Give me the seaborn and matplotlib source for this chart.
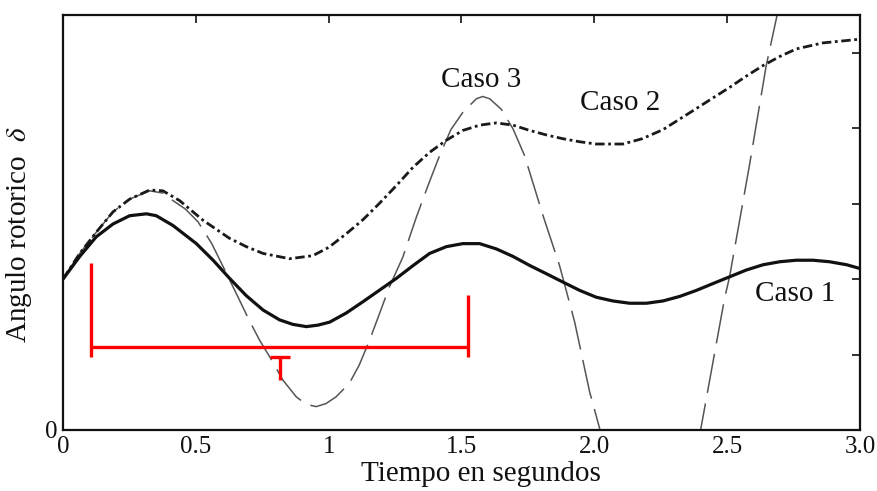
import matplotlib
matplotlib.use("Agg")
import matplotlib.pyplot as plt
import seaborn as sns
import pandas as pd

# ---- data ----
t_caso1 = [0.000, 0.063, 0.125, 0.188, 0.251, 0.314, 0.351, 0.414, 0.502, 0.565, 0.627, 0.690,
           0.753, 0.815, 0.865, 0.916, 0.960, 1.004, 1.066, 1.129, 1.190, 1.255, 1.318, 1.380,
           1.443, 1.505, 1.568, 1.631, 1.694, 1.757, 1.820, 1.882, 1.945, 2.007, 2.070, 2.133,
           2.196, 2.258, 2.321, 2.384, 2.446, 2.509, 2.572, 2.635, 2.698, 2.760, 2.823, 2.885,
           2.950, 3.000]
y_caso1 = [2.00, 2.30, 2.56, 2.73, 2.84, 2.865, 2.84, 2.71, 2.47, 2.25, 2.01, 1.78,
           1.59, 1.46, 1.40, 1.37, 1.39, 1.43, 1.55, 1.70, 1.85, 2.01, 2.18, 2.34,
           2.43, 2.47, 2.47, 2.40, 2.30, 2.18, 2.07, 1.96, 1.85, 1.76, 1.71, 1.68,
           1.68, 1.71, 1.77, 1.85, 1.94, 2.03, 2.12, 2.19, 2.23, 2.25, 2.25, 2.23,
           2.19, 2.14]

t_caso2 = [0.000, 0.063, 0.125, 0.188, 0.251, 0.326, 0.376, 0.439, 0.527, 0.627, 0.690, 0.753,
           0.853, 0.940, 1.000, 1.066, 1.130, 1.190, 1.255, 1.317, 1.380, 1.443, 1.505, 1.568,
           1.631, 1.694, 1.757, 1.820, 1.882, 1.945, 2.007, 2.107, 2.180, 2.258, 2.321, 2.384,
           2.446, 2.509, 2.572, 2.635, 2.698, 2.760, 2.860, 2.973, 3.000]
y_caso2 = [2.00, 2.34, 2.62, 2.89, 3.06, 3.18, 3.17, 3.04, 2.78, 2.54, 2.43, 2.34,
           2.27, 2.31, 2.42, 2.60, 2.79, 3.00, 3.24, 3.48, 3.68, 3.84, 3.97, 4.04,
           4.07, 4.04, 3.97, 3.91, 3.86, 3.82, 3.79, 3.79, 3.86, 3.98, 4.12, 4.26,
           4.40, 4.54, 4.69, 4.83, 4.95, 5.05, 5.13, 5.17, 5.18]

t_caso3 = [0.000, 0.063, 0.125, 0.188, 0.251, 0.326, 0.376, 0.414, 0.460, 0.508, 0.560, 0.609,
           0.659, 0.700, 0.740, 0.778, 0.828, 0.878, 0.915, 0.953, 0.990, 1.028, 1.078, 1.115,
           1.154, 1.190, 1.229, 1.279, 1.330, 1.375, 1.418, 1.460, 1.505, 1.556, 1.580, 1.606,
           1.650, 1.694, 1.737, 1.807, 1.869, 1.926, 1.982, 2.020, 2.060, 2.120, 2.200, 2.280,
           2.340, 2.400, 2.490, 2.509, 2.584, 2.647, 2.685, 2.740]
y_caso3 = [2.00, 2.34, 2.62, 2.89, 3.06, 3.17, 3.14, 3.04, 2.93, 2.76, 2.47, 2.12,
           1.76, 1.46, 1.19, 0.97, 0.66, 0.44, 0.34, 0.31, 0.35, 0.44, 0.62, 0.86,
           1.19, 1.53, 1.90, 2.29, 2.82, 3.25, 3.64, 3.98, 4.21, 4.39, 4.42, 4.39,
           4.25, 3.99, 3.64, 2.84, 2.18, 1.43, 0.51, 0.02, -0.60, -1.30, -1.80, -1.70,
           -1.10, 0.00, 1.74, 2.03, 3.51, 4.83, 5.45, 6.40]

x_ticks = [0, 0.5, 1, 1.5, 2.0, 2.5, 3.0]
x_tick_labels = ["0", "0.5", "1", "1.5", "2.0", "2.5", "3.0"]
y_ticks = [0, 1, 2, 3, 4, 5]
y_tick_labels = ["0", "", "", "", "", ""]

labels = ["Caso 1", "Caso 2", "Caso 3"]
label_x = [2.755, 2.096, 1.573]
label_y = [1.80, 4.33, 4.64]

# red annotation (bracket + small T)
red_left_x, red_left_y = [0.105, 0.105], [2.21, 0.966]
red_h_x, red_h_y = [0.105, 1.524], [1.10, 1.10]
red_right_x, red_right_y = [1.524, 1.524], [1.79, 0.966]
red_t_bar_x, red_t_bar_y = [0.779, 0.854], [0.966, 0.966]
red_t_stem_x, red_t_stem_y = [0.817, 0.817], [0.966, 0.66]

# ---- styling ----
sns.set_style("white")
plt.rcParams["font.family"] = ["Liberation Serif", "DejaVu Serif"]
plt.rcParams["mathtext.fontset"] = "stix"

fig = plt.figure(figsize=(8.78, 4.91), dpi=100)
ax = fig.add_axes([63 / 878, 1 - 430 / 491, (860 - 63) / 878, (430 - 15) / 491])

df1 = pd.DataFrame({"t": t_caso1, "y": y_caso1})
df2 = pd.DataFrame({"t": t_caso2, "y": y_caso2})
df3 = pd.DataFrame({"t": t_caso3, "y": y_caso3})

sns.lineplot(data=df3, x="t", y="y", ax=ax, color="#555555", linewidth=1.1,
             linestyle=(0, (26, 7)), sort=False, estimator=None)
sns.lineplot(data=df2, x="t", y="y", ax=ax, color="#1a1a1a", linewidth=2.0,
             linestyle=(0, (3.4, 1.3, 1.0, 1.3)), sort=False, estimator=None)
sns.lineplot(data=df1, x="t", y="y", ax=ax, color="#111111", linewidth=2.3,
             sort=False, estimator=None)

red = "#ff0000"
for xs, ys in [(red_left_x, red_left_y), (red_h_x, red_h_y), (red_right_x, red_right_y),
               (red_t_bar_x, red_t_bar_y), (red_t_stem_x, red_t_stem_y)]:
    ax.plot(xs, ys, color=red, linewidth=2.4, solid_capstyle="butt")

for txt, lx, ly in zip(labels, label_x, label_y):
    ax.text(lx, ly, txt, ha="center", va="center", fontsize=21, color="#111111")

ax.set_xlim(0, 3.0)
ax.set_ylim(0, 5.5)
ax.set_xticks(x_ticks)
ax.set_xticklabels(x_tick_labels)
ax.set_yticks(y_ticks)
ax.set_yticklabels(y_tick_labels)
ax.tick_params(direction="in", length=6, width=1.2, top=True, right=True,
               labelsize=18, colors="#111111", pad=4)

ax.set_xlabel("Tiempo en segundos", fontsize=21, color="#111111")
ax.set_ylabel(r"Angulo rotorico  $\delta$", fontsize=21, color="#111111")
ax.xaxis.set_label_coords(0.524, -0.075)
ax.yaxis.set_label_coords(-0.036, 0.472)

for s in ax.spines.values():
    s.set_linewidth(1.6)
    s.set_color("#111111")

fig.savefig("out.png", dpi=100)
